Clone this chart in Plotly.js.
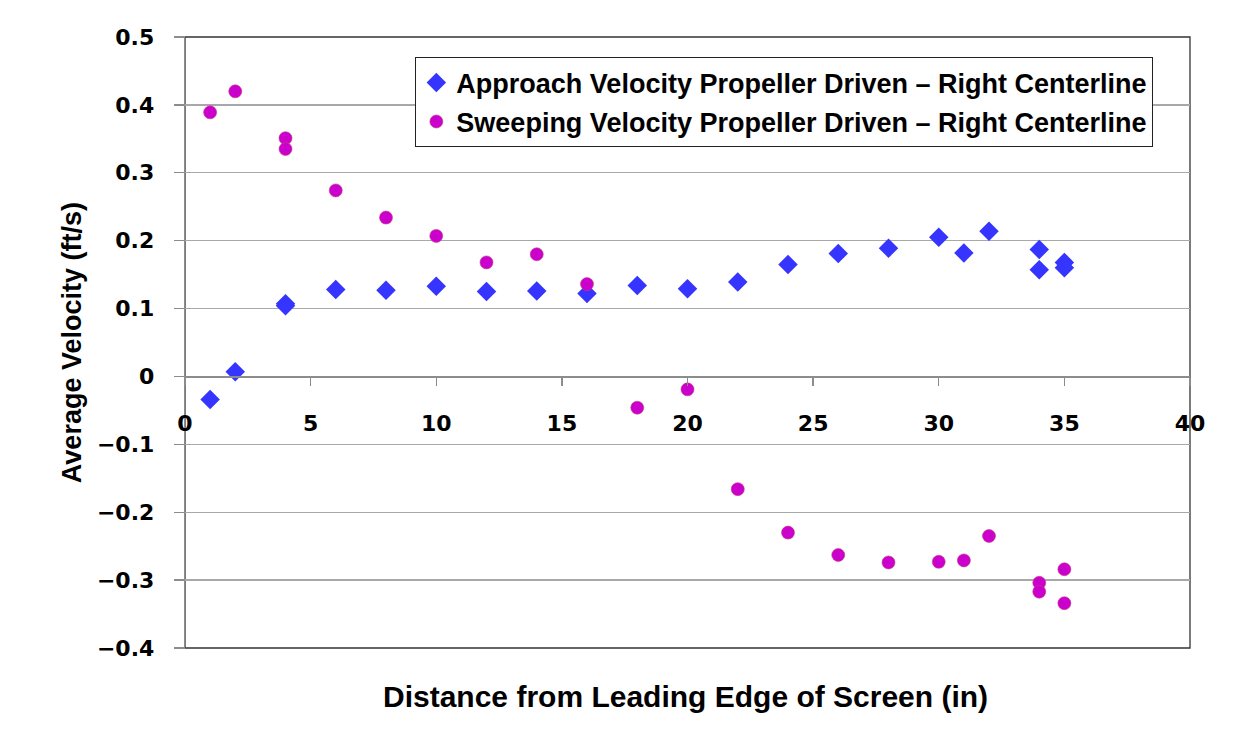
<!DOCTYPE html>
<html>
<head>
<meta charset="utf-8">
<script src="https://cdn.plot.ly/plotly-3.0.1.min.js"></script>
<style>html,body{margin:0;padding:0;background:#fff;}#chart{width:1250px;height:733px;}</style>
</head>
<body>
<div id="chart"></div>
<script>
// Distance from leading edge of screen (in)
const approachX = [1, 2, 4, 4, 6, 8, 10, 12, 14, 16, 18, 20, 22, 24, 26, 28, 30, 31, 32, 34, 34, 35, 35];
// Approach velocity (ft/s)
const approachY = [-0.034, 0.007, 0.107, 0.104, 0.128, 0.127, 0.133, 0.125, 0.126, 0.122, 0.134, 0.129, 0.139, 0.165, 0.181, 0.189, 0.205, 0.182, 0.214, 0.187, 0.157, 0.168, 0.160];

const sweepX = [1, 2, 4, 4, 6, 8, 10, 12, 14, 16, 18, 20, 22, 24, 26, 28, 30, 31, 32, 34, 34, 35, 35];
// Sweeping velocity (ft/s)
const sweepY = [0.389, 0.420, 0.351, 0.335, 0.274, 0.234, 0.207, 0.168, 0.180, 0.136, -0.046, -0.019, -0.166, -0.230, -0.263, -0.274, -0.273, -0.271, -0.235, -0.304, -0.317, -0.284, -0.334];

const seriesNames = [
  "Approach Velocity Propeller Driven \u2013 Right Centerline",
  "Sweeping Velocity Propeller Driven \u2013 Right Centerline"
];
const xTitle = "Distance from Leading Edge of Screen (in)";
const yTitle = "Average Velocity (ft/s)";

const tickFont = {family: "DejaVu Sans", size: 22, color: "#000", weight: "bold"};
const textFont = "Liberation Sans, Arial, sans-serif";

const traces = [
  {
    x: approachX, y: approachY, type: "scatter", mode: "markers", name: seriesNames[0],
    legendgroup: "a",
    marker: {symbol: "diamond", size: 15, color: "#3535ff", line: {width: 0}}
  },
  {
    x: sweepX, y: sweepY, type: "scatter", mode: "markers", name: seriesNames[1],
    legendgroup: "b",
    marker: {symbol: "circle", size: 13, color: "#cc00cc", line: {width: 0.6, color: "#c04080"}}
  }
];

const layout = {
  width: 1250, height: 733,
  margin: {l: 185, r: 60, t: 37, b: 85},
  paper_bgcolor: "#fff", plot_bgcolor: "#fff",
  showlegend: true,
  legend: {
    x: 0.229, y: 0.967, xanchor: "left", yanchor: "top",
    bgcolor: "#fff", bordercolor: "#222", borderwidth: 1.2,
    font: {family: textFont, size: 27, color: "#000", weight: "bold"},
    traceorder: "grouped", tracegroupgap: 1,
    itemwidth: 30
  },
  xaxis: {
    range: [0, 40], dtick: 5, tick0: 0,
    anchor: "free", position: 0.4444,
    showgrid: false, zeroline: false,
    showline: true, linecolor: "#8c8c8c", linewidth: 1.3,
    ticks: "outside", ticklen: 8, tickcolor: "#8c8c8c", tickwidth: 1.3,
    ticklabelstandoff: 19,
    tickfont: tickFont
  },
  yaxis: {
    range: [-0.4, 0.5], dtick: 0.1, tick0: 0,
    showgrid: true, gridcolor: "#a8a8a8", gridwidth: 1.3,
    zeroline: false,
    showline: true, linecolor: "#8c8c8c", linewidth: 1.3,
    ticks: "outside", ticklen: 10, tickcolor: "#8c8c8c", tickwidth: 1.3,
    ticklabelstandoff: 15,
    tickfont: tickFont
  },
  shapes: [
    {type: "rect", xref: "paper", yref: "paper", x0: 0, x1: 1, y0: 0, y1: 1,
     line: {color: "#333", width: 1.3}, layer: "below"}
  ],
  annotations: [
    {text: xTitle, xref: "paper", yref: "paper", x: 0.4985, y: -0.080,
     xanchor: "center", yanchor: "middle", showarrow: false,
     font: {family: textFont, size: 30, color: "#000", weight: "bold"}},
    {text: yTitle, xref: "paper", yref: "paper", x: -0.1124, y: 0.499,
     xanchor: "center", yanchor: "middle", showarrow: false, textangle: -90,
     font: {family: textFont, size: 27, color: "#000", weight: "bold"}}
  ]
};

Plotly.newPlot("chart", traces, layout, {displayModeBar: false, staticPlot: true});
</script>
</body>
</html>
